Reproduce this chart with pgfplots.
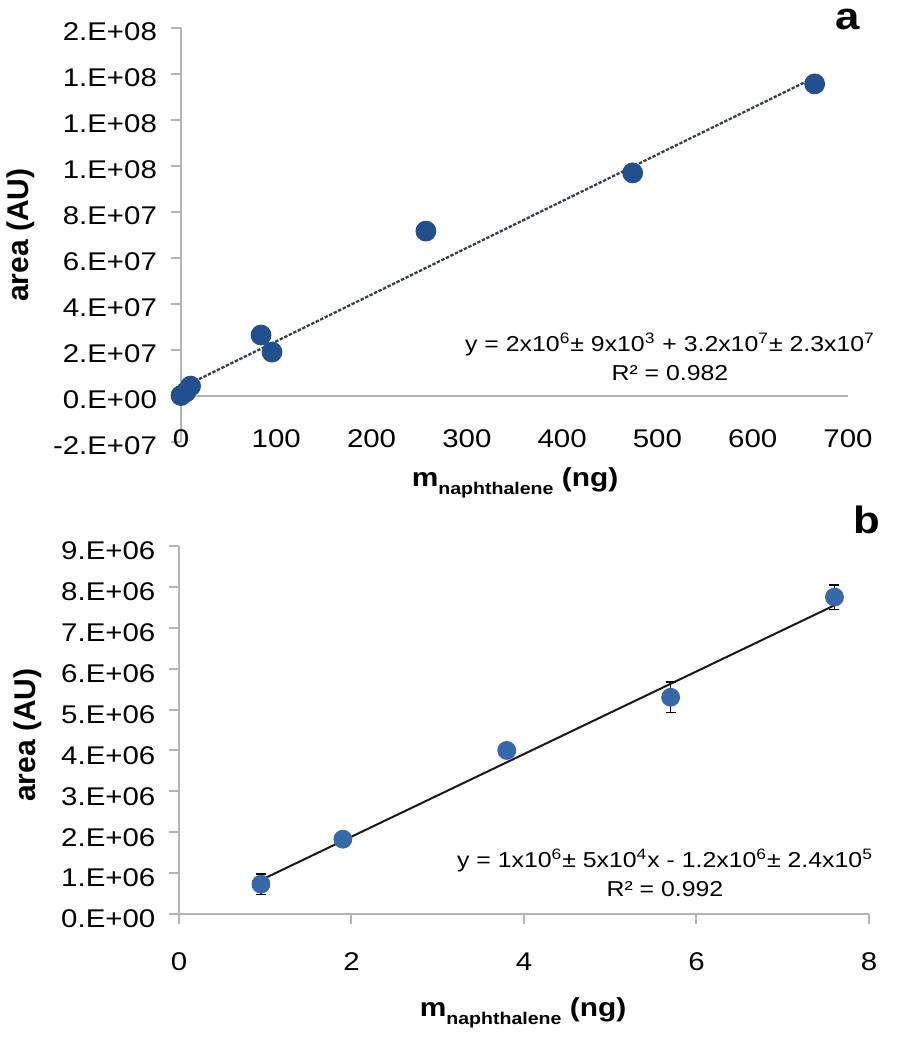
\documentclass[border=0pt]{standalone}
\usepackage{pgfplots}
\pgfplotsset{compat=1.18}
\usepackage{fontspec}
\setmainfont{Liberation Sans}[FakeStretch=1.15]
\newfontfamily\plainfont{Liberation Sans}
\definecolor{axgray}{HTML}{B4B4B4}
\definecolor{dotA}{HTML}{22508F}
\definecolor{dotB}{HTML}{3668AA}
\definecolor{lineA}{HTML}{353E4C}
\begin{document}
\begin{tikzpicture}[x=1pt,y=1pt]
\path[use as bounding box] (0,0) rectangle (449,520);
% ---------------- panel a ----------------
\begin{axis}[
  at={(90.5pt,299pt)}, anchor=south west,
  scale only axis, width=333.5pt, height=207pt,
  xmin=0, xmax=700, ymin=-2e7, ymax=1.6e8,
  clip=false,
  axis y line=left, axis x line=bottom,
  y axis line style={-, draw=axgray, line width=1pt},
  x axis line style={draw=none},
  tick align=outside, major tick length=5pt,
  ytick style={draw=axgray, line width=1pt},
  xtick style={draw=none},
  scaled y ticks=false, scaled x ticks=false,
  xtick={0,100,200,300,400,500,600,700},
  xticklabels={0,100,200,300,400,500,600,700},
  ytick={-2e7,0,2e7,4e7,6e7,8e7,1e8,1.2e8,1.4e8,1.6e8},
  yticklabels={-2.E+07,0.E+00,2.E+07,4.E+07,6.E+07,8.E+07,1.E+08,1.E+08,1.E+08,2.E+08},
  ticklabel style={font=\fontsize{12.8}{14}\selectfont},
  yticklabel style={xshift=-3.5pt, yshift=-2pt},
  xticklabel style={yshift=14.5pt},
]
\draw[axgray, line width=1pt] (axis cs:0,0) -- (axis cs:700,0);
\addplot[lineA, line width=1.15pt, dash pattern=on 1.7pt off 0.8pt] coordinates {(0,3.5e6) (665,1.385e8)};
\addplot[only marks, mark=*, mark size=5pt, mark options={draw=dotA, fill=dotA}] coordinates {
  (0,0.2e6) (5,1.7e6) (10,4.3e6) (84,2.65e7) (95.5,1.91e7) (257,7.17e7) (474,9.7e7) (665,1.357e8)
};
\end{axis}
% ---------------- panel b ----------------
\begin{axis}[
  at={(89.5pt,63pt)}, anchor=south west,
  scale only axis, width=345pt, height=184pt,
  xmin=0, xmax=8, ymin=0, ymax=9e6,
  clip=false,
  axis y line=left, axis x line=bottom,
  axis line style={-, draw=axgray, line width=1pt},
  tick align=outside, major tick length=4.8pt,
  tick style={draw=axgray, line width=1pt},
  scaled y ticks=false, scaled x ticks=false,
  xtick={0,2,4,6,8},
  xticklabels={0,2,4,6,8},
  ytick={0,1e6,2e6,3e6,4e6,5e6,6e6,7e6,8e6,9e6},
  yticklabels={0.E+00,1.E+06,2.E+06,3.E+06,4.E+06,5.E+06,6.E+06,7.E+06,8.E+06,9.E+06},
  ticklabel style={font=\fontsize{12.8}{14}\selectfont},
  yticklabel style={xshift=-3.5pt, yshift=-2.5pt},
  xticklabel style={yshift=-11pt},
]
\addplot[black!90, line width=1pt] coordinates {(0.95,0.83e6) (7.6,7.55e6)};
\addplot[only marks, mark=*, mark size=4.5pt, mark options={draw=dotB, fill=dotB},
  error bars/.cd, y dir=both, y explicit,
  error bar style={black, line width=0.8pt},
  error mark options={black, rotate=90, mark size=2.5pt, line width=0.8pt}]
  coordinates {
  (0.95,0.73e6) +- (0,0.25e6)
  (1.9,1.83e6) +- (0,0.08e6)
  (3.8,4.0e6) +- (0,0.08e6)
  (5.7,5.3e6) +- (0,0.37e6)
  (7.6,7.75e6) +- (0,0.3e6)
};
\end{axis}
% ---------------- labels ----------------
\node[rotate=90, font=\plainfont\bfseries\fontsize{15}{18}\selectfont] at (10.5,402.5) {area (AU)};
\node[rotate=90, font=\plainfont\bfseries\fontsize{15}{18}\selectfont] at (14,152.5) {area (AU)};
\node[font=\bfseries\fontsize{13}{15}\selectfont] at (257.5,278.5) {m\raisebox{-4pt}{\fontsize{8.5}{10}\selectfont naphthalene} (ng)};
\node[font=\bfseries\fontsize{13}{15}\selectfont] at (261.5,13.5) {m\raisebox{-4pt}{\fontsize{8.5}{10}\selectfont naphthalene} (ng)};
\node[font=\bfseries\fontsize{19}{22}\selectfont, inner sep=0pt] at (424,510.5) {a};
\node[font=\bfseries\fontsize{19}{22}\selectfont, inner sep=0pt] at (433.5,260) {b};
\node[align=center, font=\fontsize{10.8}{14.5}\selectfont] at (335,341.75)
  {y = 2x10\textsuperscript{6}± 9x10\textsuperscript{3} + 3.2x10\textsuperscript{7}± 2.3x10\textsuperscript{7}\\R² = 0.982};
\node[align=center, font=\fontsize{10.8}{14.5}\selectfont] at (332.5,83.75)
  {y = 1x10\textsuperscript{6}± 5x10\textsuperscript{4}x - 1.2x10\textsuperscript{6}± 2.4x10\textsuperscript{5}\\R² = 0.992};
\end{tikzpicture}
\end{document}
